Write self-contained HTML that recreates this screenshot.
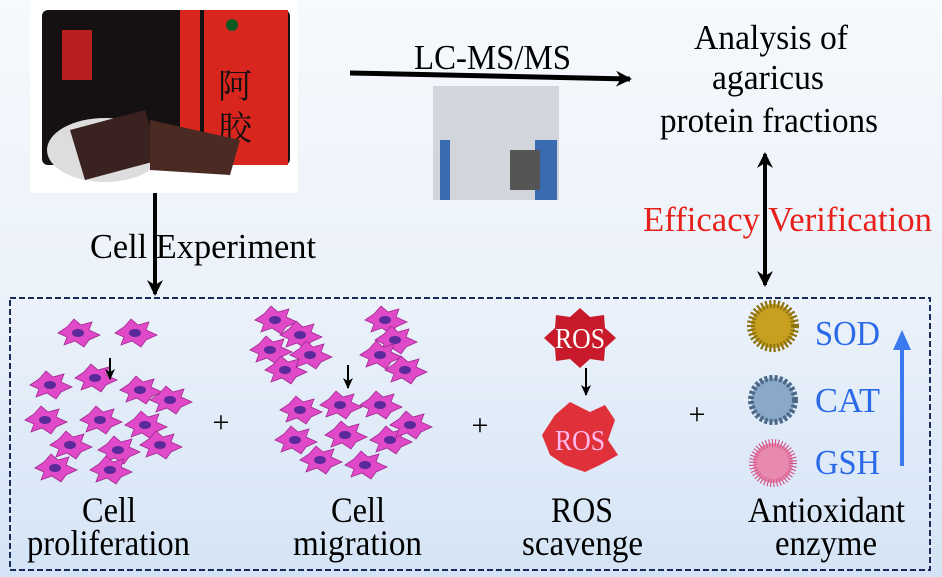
<!DOCTYPE html>
<html><head><meta charset="utf-8"><style>
html,body{margin:0;padding:0;width:942px;height:577px;overflow:hidden}
svg text{font-family:"Liberation Serif","Noto Serif CJK SC",serif}
</style></head><body>
<svg width="942" height="577" viewBox="0 0 942 577" xmlns="http://www.w3.org/2000/svg">
<defs>
<linearGradient id="bg" x1="0" y1="0" x2="0" y2="1">
<stop offset="0" stop-color="#f6f9fd"/><stop offset="0.5" stop-color="#ecf2fa"/><stop offset="1" stop-color="#d4e4f6"/></linearGradient>
<marker id="ah" markerWidth="18" markerHeight="18" refX="14" refY="9" orient="auto-start-reverse" markerUnits="userSpaceOnUse" viewBox="0 0 18 18"><path d="M0,1 L16,9 L0,17 L5,9z" fill="#000"/></marker>
<marker id="ahs" markerWidth="12" markerHeight="12" refX="10" refY="6" orient="auto" markerUnits="userSpaceOnUse" viewBox="0 0 12 12"><path d="M0,1 L11,6 L0,11 L3,6z" fill="#000"/></marker>
<g id="cell"><path d="M-20,0 L-11,-6 L-4,-14 L3,-8 L14,-11 L11,-3 L22,2 L11,7 L6,14 L-3,8 L-14,12 L-11,4z" fill="#e04ac8" stroke="#a02890" stroke-width="0.8"/><ellipse cx="0" cy="0" rx="6" ry="4" fill="#5a2a9a"/></g>
</defs>
<rect width="942" height="577" fill="url(#bg)"/>
<!-- product -->
<rect x="30" y="0" width="268" height="193" fill="#fff"/>
<rect x="42" y="10" width="248" height="155" rx="6" fill="#151112"/>
<rect x="180" y="10" width="108" height="155" fill="#d8261e"/>
<rect x="200" y="10" width="4" height="155" fill="#111"/>
<rect x="62" y="30" width="30" height="50" fill="#b82020"/>
<circle cx="232" cy="25" r="6" fill="#0a5a20"/>
<text x="218" y="98" font-size="34" fill="#111">阿</text>
<text x="218" y="140" font-size="34" fill="#111">胶</text>
<ellipse cx="105" cy="150" rx="58" ry="32" fill="#ddd"/>
<path d="M70,130 L145,110 L160,160 L85,180z" fill="#3a2220"/>
<path d="M150,120 L240,140 L230,175 L150,170z" fill="#4a2a22"/>
<!-- machine -->
<rect x="433" y="86" width="126" height="114" fill="#d2d6dc"/>
<rect x="440" y="140" width="10" height="60" fill="#3a6ab0"/>
<rect x="535" y="140" width="22" height="60" fill="#3a6ab0"/>
<rect x="510" y="150" width="30" height="40" fill="#555"/>
<!-- arrows -->
<line x1="350" y1="73" x2="630" y2="79" stroke="#000" stroke-width="5" marker-end="url(#ah)"/>
<g font-size="35">
<text x="414" y="69" textLength="157" lengthAdjust="spacingAndGlyphs">LC-MS/MS</text>
<text x="694" y="49" textLength="154" lengthAdjust="spacingAndGlyphs">Analysis of</text>
<text x="712" y="89" textLength="112" lengthAdjust="spacingAndGlyphs">agaricus</text>
<text x="660" y="132" textLength="218" lengthAdjust="spacingAndGlyphs">protein fractions</text>
<text x="90" y="258" textLength="226" lengthAdjust="spacingAndGlyphs">Cell Experiment</text>
<text x="643" y="231" textLength="289" lengthAdjust="spacingAndGlyphs" fill="#e8201a">Efficacy Verification</text>
</g>
<line x1="155" y1="193" x2="155" y2="294" stroke="#000" stroke-width="4" marker-end="url(#ah)"/>
<line x1="765" y1="154" x2="765" y2="285" stroke="#000" stroke-width="4" marker-start="url(#ah)" marker-end="url(#ah)"/>
<!-- dashed box -->
<rect x="10" y="298" width="920" height="272" fill="none" stroke="#1a2a5a" stroke-width="2" stroke-dasharray="6,3"/>
<!-- cells -->
<g>
<use href="#cell" x="78" y="333"/><use href="#cell" x="135" y="333"/>
<use href="#cell" x="50" y="385"/><use href="#cell" x="95" y="378"/><use href="#cell" x="140" y="390"/><use href="#cell" x="170" y="400"/>
<use href="#cell" x="45" y="420"/><use href="#cell" x="100" y="420"/><use href="#cell" x="145" y="425"/><use href="#cell" x="70" y="445"/><use href="#cell" x="118" y="450"/><use href="#cell" x="160" y="445"/><use href="#cell" x="55" y="468"/><use href="#cell" x="110" y="470"/>
<use href="#cell" x="275" y="320"/><use href="#cell" x="300" y="335"/><use href="#cell" x="270" y="350"/><use href="#cell" x="310" y="355"/><use href="#cell" x="285" y="370"/>
<use href="#cell" x="385" y="320"/><use href="#cell" x="395" y="340"/><use href="#cell" x="380" y="355"/><use href="#cell" x="405" y="370"/>
<use href="#cell" x="300" y="410"/><use href="#cell" x="340" y="405"/><use href="#cell" x="380" y="405"/><use href="#cell" x="295" y="440"/><use href="#cell" x="345" y="435"/><use href="#cell" x="390" y="440"/><use href="#cell" x="320" y="460"/><use href="#cell" x="365" y="465"/><use href="#cell" x="410" y="425"/>
</g>
<line x1="110" y1="358" x2="110" y2="379" stroke="#000" stroke-width="2" marker-end="url(#ahs)"/>
<line x1="348" y1="365" x2="348" y2="388" stroke="#000" stroke-width="2" marker-end="url(#ahs)"/>
<!-- ROS -->
<path d="M580,308 L590,317 L604,315 L605,328 L616,338 L605,348 L604,361 L590,359 L580,368 L570,359 L556,361 L555,348 L544,338 L555,328 L556,315 L570,317z" fill="#c81a2a"/>
<text x="580" y="348" font-size="28" fill="#fff" text-anchor="middle" textLength="50" lengthAdjust="spacingAndGlyphs">ROS</text>
<line x1="586" y1="368" x2="586" y2="395" stroke="#000" stroke-width="2" marker-end="url(#ahs)"/>
<path d="M555,415 L570,402 L590,412 L605,405 L615,420 L608,440 L618,455 L600,465 L585,472 L565,465 L550,455 L542,435z" fill="#e0303a"/>
<text x="580" y="450" font-size="28" fill="#fbe" text-anchor="middle" textLength="50" lengthAdjust="spacingAndGlyphs">ROS</text>
<!-- plus -->
<text x="221" y="432" font-size="30" text-anchor="middle">+</text>
<text x="480" y="435" font-size="30" text-anchor="middle">+</text>
<text x="697" y="424" font-size="30" text-anchor="middle">+</text>
<!-- enzymes -->
<circle cx="773" cy="326" r="22" fill="#c8a020" stroke="#8a7010" stroke-width="8" stroke-dasharray="2,2"/>
<circle cx="773" cy="400" r="22" fill="#8aa8c8" stroke="#4a6888" stroke-width="6" stroke-dasharray="3,2"/>
<circle cx="773" cy="463" r="20" fill="#e88ab0" stroke="#d04a80" stroke-width="8" stroke-dasharray="1,2"/>
<g font-size="35" fill="#2a6ae8">
<text x="815" y="345" textLength="65" lengthAdjust="spacingAndGlyphs">SOD</text>
<text x="815" y="412" textLength="65" lengthAdjust="spacingAndGlyphs">CAT</text>
<text x="815" y="474" textLength="65" lengthAdjust="spacingAndGlyphs">GSH</text>
</g>
<line x1="902" y1="466" x2="902" y2="345" stroke="#3a7aee" stroke-width="4"/>
<path d="M893,350 L902,330 L911,350z" fill="#3a7aee"/>
<!-- labels -->
<g font-size="36">
<text x="82" y="522" textLength="54" lengthAdjust="spacingAndGlyphs">Cell</text>
<text x="27" y="555" textLength="163" lengthAdjust="spacingAndGlyphs">proliferation</text>
<text x="331" y="522" textLength="54" lengthAdjust="spacingAndGlyphs">Cell</text>
<text x="293" y="555" textLength="129" lengthAdjust="spacingAndGlyphs">migration</text>
<text x="551" y="522" textLength="62" lengthAdjust="spacingAndGlyphs">ROS</text>
<text x="522" y="555" textLength="121" lengthAdjust="spacingAndGlyphs">scavenge</text>
<text x="748" y="522" textLength="157" lengthAdjust="spacingAndGlyphs">Antioxidant</text>
<text x="775" y="555" textLength="102" lengthAdjust="spacingAndGlyphs">enzyme</text>
</g>
</svg>
</body></html>
